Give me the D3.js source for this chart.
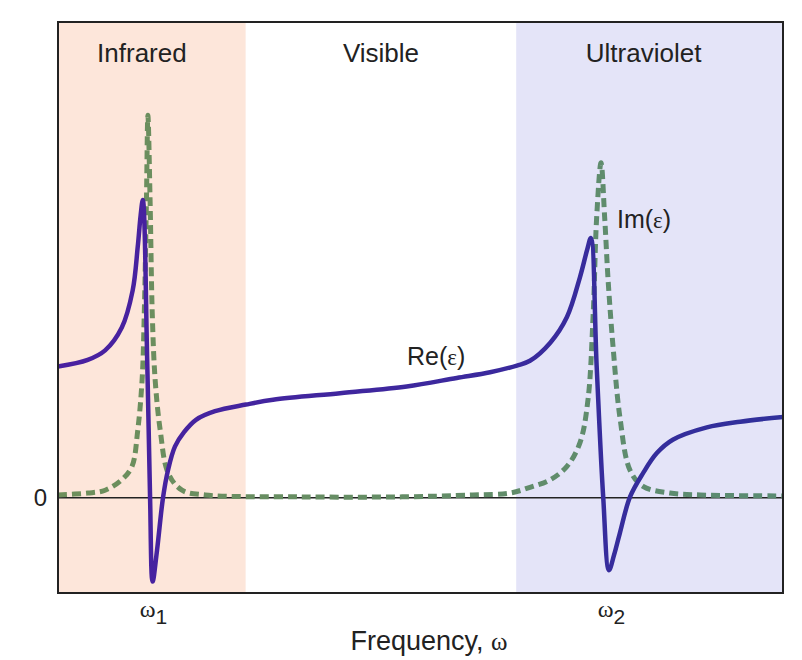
<!DOCTYPE html>
<html>
<head>
<meta charset="utf-8">
<script src="https://cdn.jsdelivr.net/npm/d3@7"></script>
<style>
  body { margin: 0; background: #fff; }
  text { font-family: "Liberation Sans", Arial, sans-serif; fill: #222; }
  .serif { font-family: "Liberation Serif", "DejaVu Serif", serif; }
</style>
</head>
<body>
<div id="chart"></div>
<script>
// spectral bands (frequency, arbitrary units 0..100)
var bandNames = ["Infrared", "Visible", "Ultraviolet"];
var bandStart = [0, 25.9, 63.2];
var bandEnd = [25.9, 63.2, 100];

// resonance frequencies
var resonances = [12.4, 74.9];
var resonanceLabels = ["1", "2"];

// Re(eps)
var reFreq = [0, 4.1, 6.5, 8.8, 10.3, 11.0, 11.4, 11.7, 12.3, 12.7, 13.05, 13.66, 14.48, 15.17, 16.14, 17.38, 19.03, 21.66, 25.93, 29.66, 38.9, 48.1, 55.0, 59.6, 63.3, 65.1, 67.9, 70.2, 72.0, 73.0, 73.5, 74.3, 75.2, 76.0, 76.7, 77.5, 78.9, 80.7, 82.6, 84.8, 89.5, 94.1, 100];
var reEps = [1.38, 1.45, 1.55, 1.79, 2.18, 2.64, 2.97, 3.13, 1.45, 0, -0.88, -0.55, 0, 0.29, 0.54, 0.69, 0.82, 0.91, 0.98, 1.03, 1.10, 1.17, 1.26, 1.32, 1.39, 1.44, 1.63, 1.90, 2.32, 2.61, 2.73, 1.38, 0.01, -0.76, -0.60, -0.37, 0.01, 0.26, 0.47, 0.61, 0.74, 0.80, 0.85];

// Im(eps)
var imFreq = [0, 4.1, 6.5, 8.8, 10.2, 11.0, 11.6, 11.9, 12.2, 12.4, 12.7, 13.0, 13.4, 14.1, 15.2, 17.1, 20.3, 33.4, 47.2, 57.2, 62.3, 65.1, 67.9, 70.2, 72.0, 73.1, 73.8, 74.3, 74.9, 75.4, 75.9, 76.6, 77.5, 78.9, 80.7, 84.4, 88.6, 100];
var imEps = [0.03, 0.05, 0.08, 0.19, 0.33, 0.71, 1.24, 1.94, 3.13, 4.02, 3.13, 1.94, 1.24, 0.71, 0.26, 0.08, 0.03, 0.01, 0.01, 0.03, 0.05, 0.11, 0.19, 0.33, 0.58, 1.03, 1.90, 2.95, 3.52, 2.95, 2.26, 1.55, 0.85, 0.29, 0.12, 0.05, 0.03, 0.02];

var width = 802, height = 660;
var margin = {left: 58, right: 19, top: 22, bottom: 67};

var bandColor = ["#fde6da", "#ffffff", "#e4e4f8"];

var svg = d3.select("#chart").append("svg")
    .attr("width", width)
    .attr("height", height);

svg.append("rect").attr("width", width).attr("height", height).attr("fill", "#fff");

var x = d3.scaleLinear().domain([0, 100]).range([margin.left, width - margin.right]);
var y = d3.scaleLinear().domain([-1, 5]).range([height - margin.bottom, margin.top]);

var defs = svg.append("defs");
function grad(id, c1, c2) {
    var g = defs.append("linearGradient").attr("id", id)
        .attr("gradientUnits", "userSpaceOnUse")
        .attr("x1", x(0)).attr("x2", x(100)).attr("y1", 0).attr("y2", 0);
    g.append("stop").attr("offset", "0%").attr("stop-color", c1);
    g.append("stop").attr("offset", "100%").attr("stop-color", c2);
}
grad("reGrad", "#4a20a0", "#30309b");
grad("imGrad", "#6e8f5b", "#5a8b73");

// band backgrounds
svg.append("g").selectAll("rect")
    .data(bandNames)
    .enter().append("rect")
    .attr("x", function(d, i) { return x(bandStart[i]); })
    .attr("y", y(5))
    .attr("width", function(d, i) { return x(bandEnd[i]) - x(bandStart[i]); })
    .attr("height", y(-1) - y(5))
    .attr("fill", function(d, i) { return bandColor[i]; });

// band titles
var titleShift = [-10, 0, -6];
svg.append("g").selectAll("text")
    .data(bandNames)
    .enter().append("text")
    .attr("x", function(d, i) { return (x(bandStart[i]) + x(bandEnd[i])) / 2 + titleShift[i]; })
    .attr("y", 62)
    .attr("text-anchor", "middle")
    .style("font-size", "26px")
    .text(function(d) { return d; });

// zero line
svg.append("line")
    .attr("x1", x(0)).attr("x2", x(100))
    .attr("y1", y(0)).attr("y2", y(0))
    .attr("stroke", "#222").attr("stroke-width", 1.5);

var line = d3.line()
    .x(function(d) { return x(d[0]); })
    .y(function(d) { return y(d[1]); })
    .curve(d3.curveCatmullRom.alpha(0.5));

svg.append("path")
    .datum(d3.zip(imFreq, imEps))
    .attr("d", line)
    .attr("fill", "none")
    .attr("stroke", "url(#imGrad)")
    .attr("stroke-width", 5)
    .attr("stroke-dasharray", "9,5");

svg.append("path")
    .datum(d3.zip(reFreq, reEps))
    .attr("d", line)
    .attr("fill", "none")
    .attr("stroke", "url(#reGrad)")
    .attr("stroke-width", 4.5)
    .attr("stroke-linejoin", "round");

// frame
svg.append("rect")
    .attr("x", x(0)).attr("y", y(5))
    .attr("width", x(100) - x(0)).attr("height", y(-1) - y(5))
    .attr("fill", "none").attr("stroke", "#222").attr("stroke-width", 2);

// y axis: only the zero
var yAxis = svg.append("g")
    .attr("transform", "translate(" + x(0) + ",0)")
    .call(d3.axisLeft(y).tickValues([0]).tickSize(0).tickPadding(11).tickFormat(d3.format("d")));
yAxis.select(".domain").remove();
yAxis.selectAll("text").style("font-size", "24px").style("font-family", "Liberation Sans, Arial, sans-serif").attr("fill", "#222");

// x axis: resonance frequencies
var xAxis = svg.append("g")
    .attr("transform", "translate(0," + y(-1) + ")")
    .call(d3.axisBottom(x).tickValues(resonances).tickSize(0).tickPadding(0).tickFormat(""));
xAxis.select(".domain").remove();
xAxis.selectAll(".tick text").remove();
xAxis.selectAll(".tick").each(function(d, i) {
    var t = d3.select(this).append("text")
        .attr("y", 24)
        .attr("dx", i == 0 ? 5 : 10)
        .attr("text-anchor", "middle");
    t.append("tspan").attr("class", "serif").style("font-size", "24px").text("ω");
    t.append("tspan").attr("dy", 7).style("font-size", "21px").text(resonanceLabels[i]);
});

// axis title
var xt = svg.append("text")
    .attr("x", 429).attr("y", 650)
    .attr("text-anchor", "middle")
    .style("font-size", "27px");
xt.append("tspan").text("Frequency, ");
xt.append("tspan").attr("class", "serif").style("font-size", "25px").text("ω");

// curve labels
function epsLabel(name, px, py) {
    var t = svg.append("text").attr("x", px).attr("y", py).style("font-size", "25px");
    t.append("tspan").text(name + "(");
    t.append("tspan").attr("class", "serif").style("font-size", "23px").text("ε");
    t.append("tspan").text(")");
}
epsLabel("Re", 407, 365);
epsLabel("Im", 617, 228);
</script>
</body>
</html>
